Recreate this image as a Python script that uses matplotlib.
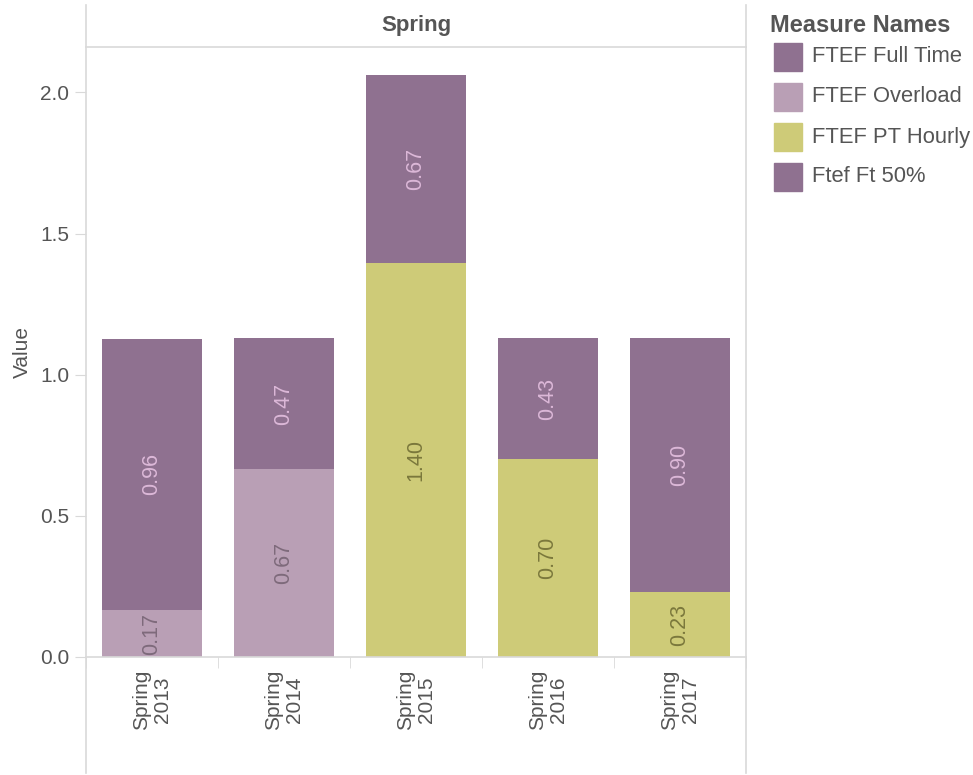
import matplotlib
matplotlib.use('Agg')
import matplotlib.pyplot as plt
from matplotlib.patches import Rectangle
from matplotlib.lines import Line2D
import numpy as np

plt.rcParams['font.family'] = ['Liberation Sans', 'DejaVu Sans']

# Data
seasons = ['Spring\n2013', 'Spring\n2014', 'Spring\n2015', 'Spring\n2016', 'Spring\n2017']
overload = [0.165, 0.665, 0.0, 0.0, 0.0]
pt_hourly = [0.0, 0.0, 1.395, 0.70, 0.23]
full_time = [0.963, 0.465, 0.665, 0.43, 0.90]
measures = ['FTEF Full Time', 'FTEF Overload', 'FTEF PT Hourly', 'Ftef Ft 50%']

C_FULL = '#8f7190'
C_OVER = '#b99fb5'
C_PT = '#cecb78'
C_FT50 = '#8f7190'
LBL = {C_FULL: '#dcb8d8', C_OVER: '#7e6a7b', C_PT: '#7b783c'}
TXT = '#555555'
GRID = '#d9d9d9'

W, H = 973, 775
fig = plt.figure(figsize=(W / 100, H / 100), dpi=100)

L, R, T, B = 86, 746, 47, 657
ax = fig.add_axes([L / W, 1 - B / H, (R - L) / W, (B - T) / H])

x = np.arange(len(seasons))
bottom = np.zeros(len(seasons))
for vals, col in [(overload, C_OVER), (pt_hourly, C_PT), (full_time, C_FULL)]:
    vals = np.array(vals)
    ax.bar(x, vals, bottom=bottom, width=100 / 132, color=col, linewidth=0)
    for i, v in enumerate(vals):
        if v > 0:
            ax.text(x[i], bottom[i] + v / 2, f'{v:.2f}', rotation=90,
                    ha='center', va='center', fontsize=15.5, color=LBL[col])
    bottom += vals

ax.set_xlim(-0.5, len(seasons) - 0.5)
ax.set_ylim(0, (B - T) / 282.3)
ax.set_yticks([0, 0.5, 1.0, 1.5, 2.0])
ax.set_yticklabels(['0.0', '0.5', '1.0', '1.5', '2.0'])
ax.tick_params(axis='y', length=8, color=GRID, labelsize=15, labelcolor=TXT, pad=4)
ax.set_xticks(np.arange(len(seasons) + 1) - 0.5, minor=True)
ax.set_xticks(x)
ax.set_xticklabels(seasons, rotation=90, fontsize=15, color=TXT,
                   linespacing=1.1, va='top', ha='center')
ax.tick_params(axis='x', which='major', length=0, pad=9)
ax.tick_params(axis='x', which='minor', length=8, color=GRID)
for s in ['top', 'right', 'left']:
    ax.spines[s].set_visible(False)
ax.spines['bottom'].set_color(GRID)
ax.spines['bottom'].set_linewidth(1.2)
ax.set_ylabel('Value', fontsize=15, color=TXT, labelpad=6)

# frame lines (header and panel borders)
def fline(x0, y0, x1, y1):
    fig.add_artist(Line2D([x0 / W, x1 / W], [1 - y0 / H, 1 - y1 / H],
                          color=GRID, linewidth=1.2))

fline(L, 5, L, 773)
fline(R, 5, R, 773)
fline(L, T, R, T)
fig.text((L + R) / 2 / W, 1 - 26 / H, 'Spring', ha='center', va='center',
         fontsize=16, fontweight='bold', color=TXT)

# legend
fig.text(770 / W, 1 - 25 / H, 'Measure Names', ha='left', va='center',
         fontsize=17, fontweight='bold', color=TXT)
for k, (name, col) in enumerate(zip(measures, [C_FULL, C_OVER, C_PT, C_FT50])):
    yc = 57 + k * 40
    fig.add_artist(Rectangle((774 / W, 1 - (yc + 14) / H), 28 / W, 28 / H,
                             color=col, transform=fig.transFigure))
    fig.text(812 / W, 1 - yc / H, name, ha='left', va='center',
             fontsize=15.8, color=TXT)

fig.savefig('out.png', dpi=100)
